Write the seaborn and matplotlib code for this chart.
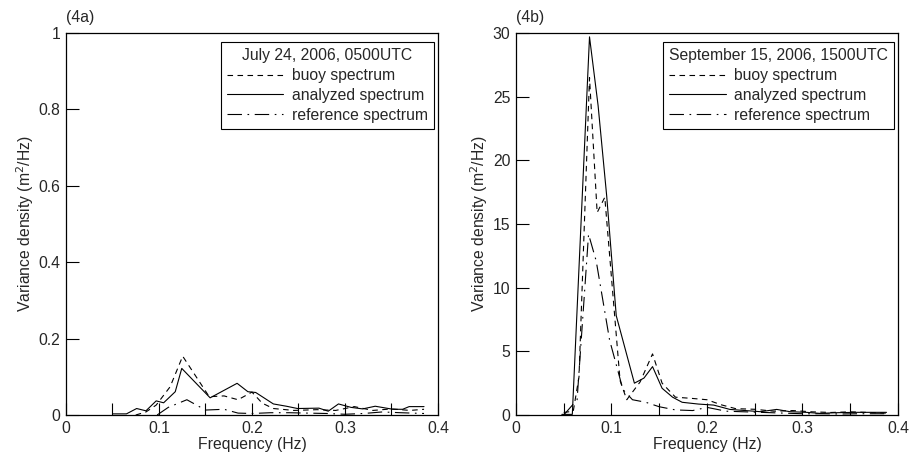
import matplotlib
matplotlib.use('Agg')
import matplotlib.pyplot as plt
import seaborn as sns

# Panel (4a) - July 24, 2006, 0500UTC
a_buoy_f = [0.075, 0.086, 0.097, 0.112, 0.1255, 0.154, 0.170, 0.185, 0.200, 0.211,
            0.223, 0.245, 0.270, 0.290, 0.310, 0.330, 0.350, 0.370, 0.385]
a_buoy = [0.0, 0.008, 0.026, 0.074, 0.154, 0.048, 0.050, 0.040, 0.060, 0.031,
          0.017, 0.012, 0.014, 0.012, 0.022, 0.012, 0.016, 0.012, 0.015]
a_ana_f = [0.050, 0.065, 0.076, 0.086, 0.097, 0.105, 0.1175, 0.1245, 0.155, 0.184,
           0.1956, 0.204, 0.223, 0.237, 0.249, 0.272, 0.282, 0.293, 0.3065, 0.319,
           0.3325, 0.3516, 0.362, 0.369, 0.385]
a_ana = [0.003, 0.003, 0.017, 0.011, 0.037, 0.032, 0.061, 0.122, 0.045, 0.083,
         0.061, 0.059, 0.029, 0.023, 0.017, 0.018, 0.010, 0.029, 0.020, 0.016,
         0.023, 0.015, 0.015, 0.022, 0.022]
a_ref_f = [0.098, 0.110, 0.130, 0.150, 0.170, 0.185, 0.200, 0.220, 0.240, 0.260,
           0.280, 0.300, 0.320, 0.340, 0.360, 0.385]
a_ref = [0.0, 0.020, 0.040, 0.013, 0.015, 0.005, 0.004, 0.006, 0.006, 0.005,
         0.004, 0.002, 0.004, 0.008, 0.006, 0.004]

# Panel (4b) - September 15, 2006, 1500UTC
b_buoy_f = [0.050, 0.060, 0.066, 0.077, 0.085, 0.093, 0.109, 0.116, 0.130, 0.143,
            0.153, 0.167, 0.185, 0.200, 0.215, 0.230, 0.250, 0.270, 0.290, 0.310,
            0.330, 0.350, 0.370, 0.388]
b_buoy = [0.2, 0.3, 3.0, 26.5, 15.9, 17.1, 2.7, 1.2, 2.6, 4.8,
          2.5, 1.4, 1.3, 1.2, 0.8, 0.5, 0.45, 0.3, 0.35, 0.25,
          0.2, 0.25, 0.2, 0.15]
b_ana_f = [0.048, 0.059, 0.077, 0.086, 0.095, 0.105, 0.124, 0.134, 0.143, 0.153,
           0.164, 0.174, 0.191, 0.207, 0.224, 0.242, 0.256, 0.273, 0.287, 0.304,
           0.318, 0.335, 0.356, 0.388]
b_ana = [0.05, 0.05, 29.7, 24.3, 17.2, 7.8, 2.5, 2.9, 3.8, 2.1,
         1.4, 1.0, 0.86, 0.78, 0.44, 0.34, 0.26, 0.44, 0.26, 0.21,
         0.13, 0.18, 0.21, 0.21]
b_ref_f = [0.050, 0.064, 0.076, 0.084, 0.098, 0.112, 0.122, 0.136, 0.150, 0.167,
           0.185, 0.200, 0.220, 0.240, 0.260, 0.280, 0.300, 0.320, 0.340, 0.360, 0.388]
b_ref = [0.0, 1.2, 14.2, 12.1, 5.9, 2.0, 1.2, 1.0, 0.65, 0.4,
         0.35, 0.6, 0.3, 0.25, 0.2, 0.15, 0.1, 0.1, 0.08, 0.1, 0.1]

x_ticks = [0, 0.05, 0.1, 0.15, 0.2, 0.25, 0.3, 0.35, 0.4]
x_labels = ['0', '', '0.1', '', '0.2', '', '0.3', '', '0.4']
a_yticks = [0, 0.2, 0.4, 0.6, 0.8, 1.0]
a_ylabels = ['0', '0.2', '0.4', '0.6', '0.8', '1']
b_yticks = [0, 5, 10, 15, 20, 25, 30]

sns.set_style('ticks')
plt.rcParams['font.family'] = ['Liberation Sans', 'DejaVu Sans']
fs = 11.3
plt.rcParams['font.size'] = fs

fig = plt.figure(figsize=(9.1, 4.62), dpi=100)
ax_a = fig.add_axes([0.0725, 0.1017, 0.4088, 0.8268])
ax_b = fig.add_axes([0.567, 0.1017, 0.4198, 0.8268])

panels = [
    (ax_a, a_buoy_f, a_buoy, a_ana_f, a_ana, a_ref_f, a_ref,
     'July 24, 2006, 0500UTC', '(4a)', (0, 1), a_yticks, a_ylabels, 'center'),
    (ax_b, b_buoy_f, b_buoy, b_ana_f, b_ana, b_ref_f, b_ref,
     'September 15, 2006, 1500UTC', '(4b)', (0, 30), b_yticks,
     [str(t) for t in b_yticks], 'left'),
]

for ax, bf, bv, af, av, rf, rv, title, tag, ylim, yt, ytl, align in panels:
    sns.lineplot(x=bf, y=bv, ax=ax, color='k', lw=0.8, linestyle=(0, (5, 4)),
                 label='buoy spectrum')
    sns.lineplot(x=af, y=av, ax=ax, color='k', lw=0.8, label='analyzed spectrum')
    sns.lineplot(x=rf, y=rv, ax=ax, color='k', lw=0.8,
                 linestyle=(0, (13, 5, 1.5, 5)), label='reference spectrum')

    ax.set_xlim(0, 0.4)
    ax.set_ylim(*ylim)
    ax.set_xticks(x_ticks)
    ax.set_xticklabels(x_labels)
    ax.set_yticks(yt)
    ax.set_yticklabels(ytl)
    ax.tick_params(direction='in', length=9, width=0.8, color='k', pad=4, labelsize=fs)
    for sp in ax.spines.values():
        sp.set_visible(True)
        sp.set_color('k')
        sp.set_linewidth(0.9)
    ax.set_xlabel('Frequency (Hz)', labelpad=1, fontsize=fs)
    ax.set_ylabel('Variance density (m$^2$/Hz)', labelpad=2, fontsize=fs)
    ax.text(0.0, 1.02, tag, transform=ax.transAxes, ha='left', va='bottom', fontsize=fs)

    leg = ax.legend(title=title, loc='upper right', bbox_to_anchor=(0.99, 0.976),
                    borderaxespad=0, handlelength=3.6, handletextpad=0.55,
                    labelspacing=0.3, fancybox=False, framealpha=1, edgecolor='k',
                    fontsize=fs, title_fontsize=fs, borderpad=0.4, alignment=align)
    leg.get_frame().set_linewidth(0.8)

fig.savefig('out.png', dpi=100)
